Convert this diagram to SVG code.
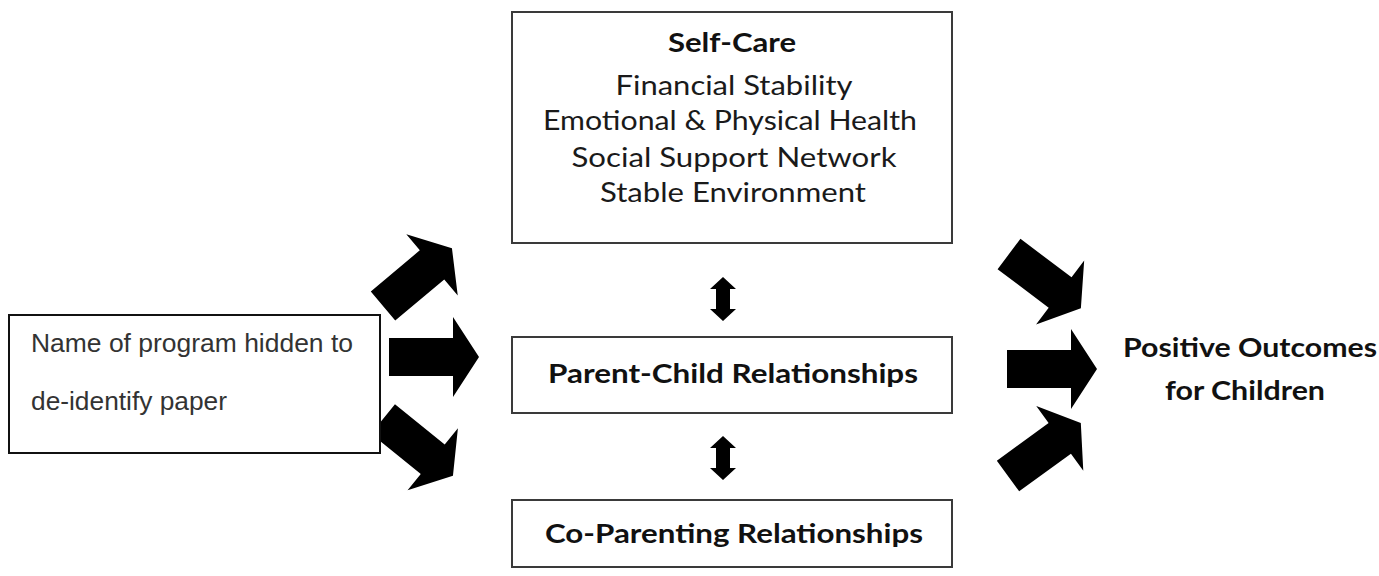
<svg xmlns="http://www.w3.org/2000/svg" width="1379" height="576" viewBox="0 0 1379 576">
  <style>
    .box { fill: #ffffff; stroke: #3a3a3a; stroke-width: 2; }
    .lbox { fill: #ffffff; stroke: #111111; stroke-width: 2; }
    .t { font-family: Lato, "Open Sans", "Liberation Sans", sans-serif; font-size: 27px; fill: #1a1a1a; text-anchor: middle; }
    .b { font-weight: bold; fill: #111111; }
    .plain { font-family: "Liberation Sans", Arial, sans-serif; font-size: 26px; fill: #333333; }
    .arrow { fill: #000000; }
  </style>
  <defs>
    <!-- block arrow pointing right, tail centre at origin, tip at x=90 -->
    <path id="blockArrow" d="M0,-19 L64,-19 L64,-40 L90,0 L64,40 L64,19 L0,19 Z"/>
    <!-- small vertical double-headed arrow centred at origin -->
    <path id="dblArrow" d="M0,-22 L13,-10 L7,-10 L7,10 L13,10 L0,22 L-13,10 L-7,10 L-7,-10 L-13,-10 Z"/>
  </defs>

  <g id="connectors" class="arrow">
    <!-- program to the three relationship areas -->
    <use href="#blockArrow" transform="translate(383,306) rotate(-40)"/>
    <use href="#blockArrow" transform="translate(389,357)"/>
    <use href="#blockArrow" transform="translate(383,419) rotate(39)"/>
    <!-- relationship areas to outcomes -->
    <use href="#blockArrow" transform="translate(1009,254) rotate(37)"/>
    <use href="#blockArrow" transform="translate(1007,369)"/>
    <use href="#blockArrow" transform="translate(1008,476) rotate(-36)"/>
    <!-- links between the centre boxes -->
    <use href="#dblArrow" transform="translate(723,299)"/>
    <use href="#dblArrow" transform="translate(723,458)"/>
  </g>

  <g id="program">
    <rect class="lbox" x="9" y="315" width="371" height="138"/>
    <text class="plain" x="31" y="352" textLength="322" lengthAdjust="spacingAndGlyphs">Name of program hidden to</text>
    <text class="plain" x="31" y="410" textLength="196" lengthAdjust="spacingAndGlyphs">de-identify paper</text>
  </g>

  <g id="self-care">
    <rect class="box" x="512" y="12" width="440" height="231"/>
    <text class="t b" x="732" y="52" font-size="28" textLength="128" lengthAdjust="spacingAndGlyphs">Self-Care</text>
    <text class="t" x="734" y="95" textLength="237" lengthAdjust="spacingAndGlyphs">Financial Stability</text>
    <text class="t" x="730" y="130" textLength="374" lengthAdjust="spacingAndGlyphs">Emotional &amp; Physical Health</text>
    <text class="t" x="734" y="167" textLength="325" lengthAdjust="spacingAndGlyphs">Social Support Network</text>
    <text class="t" x="733" y="202" textLength="266" lengthAdjust="spacingAndGlyphs">Stable Environment</text>
  </g>

  <g id="parent-child">
    <rect class="box" x="512" y="337" width="440" height="76"/>
    <text class="t b" x="733" y="383" textLength="370" lengthAdjust="spacingAndGlyphs">Parent-Child Relationships</text>
  </g>

  <g id="co-parenting">
    <rect class="box" x="512" y="500" width="440" height="67"/>
    <text class="t b" x="734" y="543" textLength="378" lengthAdjust="spacingAndGlyphs">Co-Parenting Relationships</text>
  </g>

  <g id="outcomes">
    <text class="t b" x="1250" y="357" textLength="254" lengthAdjust="spacingAndGlyphs">Positive Outcomes</text>
    <text class="t b" x="1245" y="400" textLength="160" lengthAdjust="spacingAndGlyphs">for Children</text>
  </g>
</svg>
